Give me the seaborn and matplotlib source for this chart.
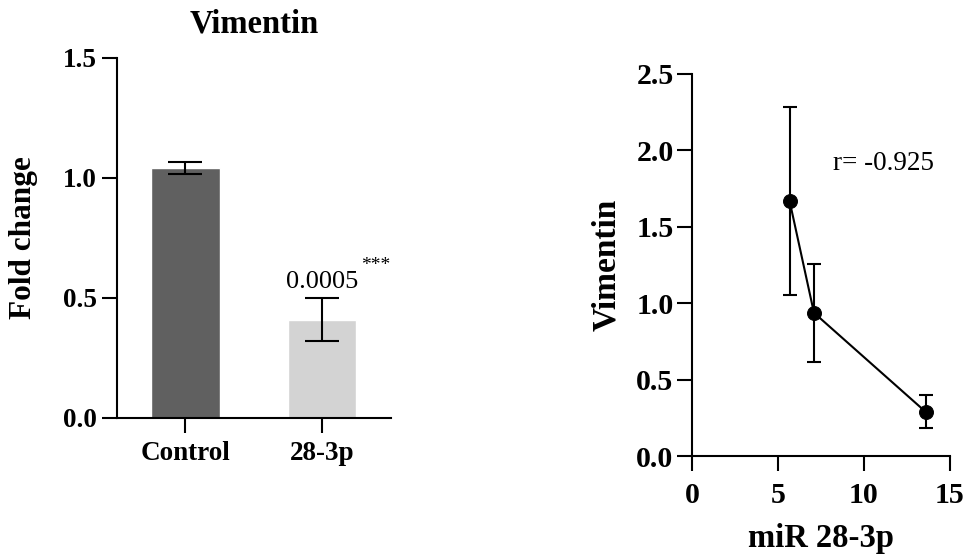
import matplotlib
matplotlib.use("Agg")
import matplotlib.pyplot as plt
import seaborn as sns
import pandas as pd

# Bar panel: Vimentin fold change
groups = ["Control", "28-3p"]
fold_change = [1.04, 0.41]
fold_err = [0.025, 0.09]
bar_colors = ["#606060", "#d3d3d3"]
p_value_text = "0.0005"
stars = "***"

# Correlation panel: Vimentin vs miR 28-3p
mir_levels = [5.67, 7.09, 13.6]
vim_levels = [1.667, 0.937, 0.29]
vim_err = [0.615, 0.32, 0.107]
r_text = "r= -0.925"

sns.set_theme(style="ticks")
plt.rcParams["font.family"] = ["Liberation Serif", "DejaVu Serif"]
plt.rcParams.update({
    "text.color": "black",
    "axes.labelcolor": "black",
    "axes.edgecolor": "black",
    "xtick.color": "black",
    "ytick.color": "black",
    "axes.linewidth": 1.5,
    "xtick.major.width": 1.5,
    "ytick.major.width": 1.5,
    "xtick.major.size": 10.5,
    "ytick.major.size": 10.5,
})

fig = plt.figure(figsize=(9.67, 5.57), dpi=100)
ax1 = fig.add_axes([0.121, 0.2496, 0.283, 0.6464])
ax2 = fig.add_axes([0.716, 0.181, 0.266, 0.687])

# --- bar chart ---
df_bar = pd.DataFrame({"group": groups, "value": fold_change})
sns.barplot(data=df_bar, x="group", y="value", hue="group", palette=bar_colors,
            width=0.5, errorbar=None, legend=False, ax=ax1, saturation=1)
ax1.errorbar(range(len(groups)), fold_change, yerr=fold_err, fmt="none",
             ecolor="black", elinewidth=1.5, capsize=12, capthick=1.5)
ax1.set_xlim(-0.5, 1.5)
ax1.set_ylim(0, 1.5)
ax1.set_yticks([0.0, 0.5, 1.0, 1.5])
ax1.set_yticklabels(["0.0", "0.5", "1.0", "1.5"])
ax1.set_xlabel("")
ax1.set_ylabel("Fold change", fontsize=22.5, fontweight="bold", labelpad=18)
ax1.set_title("Vimentin", fontsize=23.5, fontweight="bold", pad=18)
for lab in ax1.get_xticklabels() + ax1.get_yticklabels():
    lab.set_fontsize(19.5)
    lab.set_fontweight("bold")
ax1.tick_params(axis="x", pad=6)
ax1.tick_params(axis="y", pad=4)
ax1.text(1, fold_change[1] + fold_err[1] + 0.02, p_value_text, ha="center",
         va="bottom", fontsize=19)
ax1.text(1.28, fold_change[1] + fold_err[1] + 0.1, stars, ha="left",
         va="bottom", fontsize=14)
sns.despine(ax=ax1)

# --- correlation plot ---
df_line = pd.DataFrame({"mir": mir_levels, "vim": vim_levels})
ax2.errorbar(mir_levels, vim_levels, yerr=vim_err, fmt="none",
             ecolor="black", elinewidth=1.5, capsize=4.8, capthick=1.5)
sns.lineplot(data=df_line, x="mir", y="vim", color="black", linewidth=1.5,
             marker="o", markersize=10, markeredgecolor="black", ax=ax2,
             sort=False)
ax2.set_xlim(0, 15)
ax2.set_ylim(0, 2.5)
ax2.set_xticks([0, 5, 10, 15])
ax2.set_yticks([0.0, 0.5, 1.0, 1.5, 2.0, 2.5])
ax2.set_yticklabels(["0.0", "0.5", "1.0", "1.5", "2.0", "2.5"])
ax2.set_xlabel("miR 28-3p", fontsize=23.5, fontweight="bold", labelpad=10)
ax2.set_ylabel("Vimentin", fontsize=24, fontweight="bold", labelpad=10)
for lab in ax2.get_xticklabels() + ax2.get_yticklabels():
    lab.set_fontsize(21.5)
    lab.set_fontweight("bold")
ax2.tick_params(axis="x", pad=8)
ax2.tick_params(axis="y", pad=3)
ax2.text(8.2, 1.91, r_text, ha="left", va="center", fontsize=19.5)
sns.despine(ax=ax2)

fig.savefig("out.png", dpi=100)
